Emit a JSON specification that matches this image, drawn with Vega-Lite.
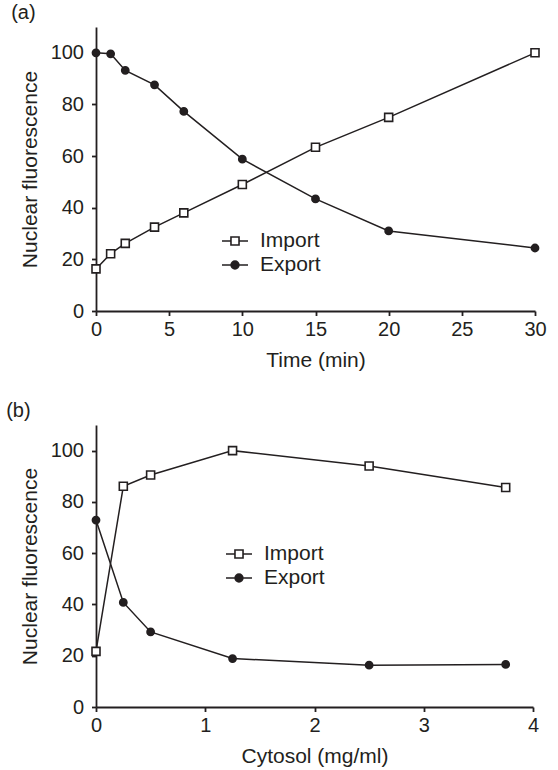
{
  "$schema": "https://vega.github.io/schema/vega-lite/v6.json",
  "background": "white",
  "padding": {"left": 6, "top": 3, "right": 18, "bottom": 5},
  "config": {
    "font": "Liberation Sans",
    "view": {"stroke": null},
    "axis": {
      "domain": true, "ticks": true,
      "domainColor": "#231f20", "domainWidth": 1.8,
      "tickColor": "#231f20", "tickWidth": 1.8, "tickSize": 4.5,
      "grid": false, "labelFlush": false,
      "labelColor": "#231f20", "labelFontSize": 20, "labelPadding": 4,
      "titleColor": "#231f20", "titleFontSize": 21, "titleFontWeight": "normal"
    },
    "axisY": {"labelPadding": 8, "titlePadding": 10},
    "axisX": {"titlePadding": 10},
    "title": {"fontSize": 20, "fontWeight": "normal", "color": "#231f20", "anchor": "start", "frame": "bounds"},
    "legend": {"labelFontSize": 21, "labelColor": "#231f20", "padding": 0, "rowPadding": 0, "labelOffset": 11, "symbolSize": 676, "symbolStrokeWidth": 1.6, "symbolOpacity": 1},
    "concat": {"spacing": 30}
  },
  "datasets": {
    "a": [
      {"t": 0, "v": 16.3, "series": "Import"},
      {"t": 1, "v": 22.2, "series": "Import"},
      {"t": 2, "v": 26.2, "series": "Import"},
      {"t": 4, "v": 32.5, "series": "Import"},
      {"t": 6, "v": 38, "series": "Import"},
      {"t": 10, "v": 49, "series": "Import"},
      {"t": 15, "v": 63.4, "series": "Import"},
      {"t": 20, "v": 75, "series": "Import"},
      {"t": 30, "v": 100, "series": "Import"},
      {"t": 0, "v": 100, "series": "Export"},
      {"t": 1, "v": 99.6, "series": "Export"},
      {"t": 2, "v": 93.2, "series": "Export"},
      {"t": 4, "v": 87.6, "series": "Export"},
      {"t": 6, "v": 77.3, "series": "Export"},
      {"t": 10, "v": 58.8, "series": "Export"},
      {"t": 15, "v": 43.4, "series": "Export"},
      {"t": 20, "v": 31, "series": "Export"},
      {"t": 30, "v": 24.4, "series": "Export"}
    ],
    "b": [
      {"c": 0, "v": 21.7, "series": "Import"},
      {"c": 0.25, "v": 86.1, "series": "Import"},
      {"c": 0.5, "v": 90.5, "series": "Import"},
      {"c": 1.25, "v": 100, "series": "Import"},
      {"c": 2.5, "v": 94, "series": "Import"},
      {"c": 3.75, "v": 85.6, "series": "Import"},
      {"c": 0, "v": 72.9, "series": "Export"},
      {"c": 0.25, "v": 40.8, "series": "Export"},
      {"c": 0.5, "v": 29.3, "series": "Export"},
      {"c": 1.25, "v": 18.9, "series": "Export"},
      {"c": 2.5, "v": 16.3, "series": "Export"},
      {"c": 3.75, "v": 16.6, "series": "Export"}
    ]
  },
  "vconcat": [
    {
      "title": {"text": "(a)", "dx": -8},
      "width": 439,
      "height": 284,
      "data": {"name": "a"},
      "encoding": {
        "x": {"field": "t", "type": "quantitative", "scale": {"domain": [0, 30], "nice": false},
              "axis": {"values": [0, 5, 10, 15, 20, 25, 30], "title": "Time (min)"}},
        "y": {"field": "v", "type": "quantitative", "scale": {"domain": [0, 110], "nice": false},
              "axis": {"values": [0, 20, 40, 60, 80, 100], "title": "Nuclear fluorescence"}}
      },
      "layer": [
        {
          "mark": {"type": "line", "color": "#231f20", "strokeWidth": 1.5},
          "encoding": {"detail": {"field": "series"}}
        },
        {
          "mark": {"type": "point", "opacity": 1, "stroke": "#231f20", "strokeWidth": 1.6},
          "encoding": {
            "shape": {"condition": {"test": "datum.series === 'Import'", "value": "square"}, "value": "circle"},
            "fill": {"condition": {"test": "datum.series === 'Import'", "value": "white"}, "value": "#231f20"},
            "size": {"condition": {"test": "datum.series === 'Import'", "value": 64}, "value": 52}
          }
        },
        {
          "mark": {"type": "point", "opacity": 0, "strokeWidth": 1.6},
          "encoding": {
            "shape": {"field": "series", "type": "nominal",
                      "scale": {"domain": ["Import", "Export"], "range": ["M-1,0H-0.31M0.31,0H1M-0.31,-0.31H0.31V0.31H-0.31Z", "M-1,0H1M0.3,0A0.3,0.3 0 1,1 -0.3,0A0.3,0.3 0 1,1 0.3,0Z"]},
                      "legend": {"title": null, "orient": "none", "legendX": 125, "legendY": 200}},
            "fill": {"field": "series", "type": "nominal", "scale": {"domain": ["Import", "Export"], "range": ["white", "#231f20"]},
                     "legend": {"title": null, "orient": "none", "legendX": 125, "legendY": 200}},
            "stroke": {"field": "series", "type": "nominal", "scale": {"domain": ["Import", "Export"], "range": ["#231f20", "#231f20"]},
                     "legend": {"title": null, "orient": "none", "legendX": 125, "legendY": 200}}
          }
        }
      ]
    },
    {
      "title": {"text": "(b)", "dx": -13},
      "width": 437,
      "height": 282,
      "data": {"name": "b"},
      "encoding": {
        "x": {"field": "c", "type": "quantitative", "scale": {"domain": [0, 4], "nice": false},
              "axis": {"values": [0, 1, 2, 3, 4], "title": "Cytosol (mg/ml)"}},
        "y": {"field": "v", "type": "quantitative", "scale": {"domain": [0, 110], "nice": false},
              "axis": {"values": [0, 20, 40, 60, 80, 100], "title": "Nuclear fluorescence"}}
      },
      "layer": [
        {
          "mark": {"type": "line", "color": "#231f20", "strokeWidth": 1.5},
          "encoding": {"detail": {"field": "series"}}
        },
        {
          "mark": {"type": "point", "opacity": 1, "stroke": "#231f20", "strokeWidth": 1.6},
          "encoding": {
            "shape": {"condition": {"test": "datum.series === 'Import'", "value": "square"}, "value": "circle"},
            "fill": {"condition": {"test": "datum.series === 'Import'", "value": "white"}, "value": "#231f20"},
            "size": {"condition": {"test": "datum.series === 'Import'", "value": 64}, "value": 52}
          }
        },
        {
          "mark": {"type": "point", "opacity": 0, "strokeWidth": 1.6},
          "encoding": {
            "shape": {"field": "series", "type": "nominal",
                      "scale": {"domain": ["Import", "Export"], "range": ["M-1,0H-0.31M0.31,0H1M-0.31,-0.31H0.31V0.31H-0.31Z", "M-1,0H1M0.3,0A0.3,0.3 0 1,1 -0.3,0A0.3,0.3 0 1,1 0.3,0Z"]},
                      "legend": {"title": null, "orient": "none", "legendX": 129, "legendY": 115}},
            "fill": {"field": "series", "type": "nominal", "scale": {"domain": ["Import", "Export"], "range": ["white", "#231f20"]},
                     "legend": {"title": null, "orient": "none", "legendX": 129, "legendY": 115}},
            "stroke": {"field": "series", "type": "nominal", "scale": {"domain": ["Import", "Export"], "range": ["#231f20", "#231f20"]},
                     "legend": {"title": null, "orient": "none", "legendX": 129, "legendY": 115}}
          }
        }
      ]
    }
  ],
  "resolve": {"scale": {"shape": "independent", "fill": "independent", "stroke": "independent"}}
}
